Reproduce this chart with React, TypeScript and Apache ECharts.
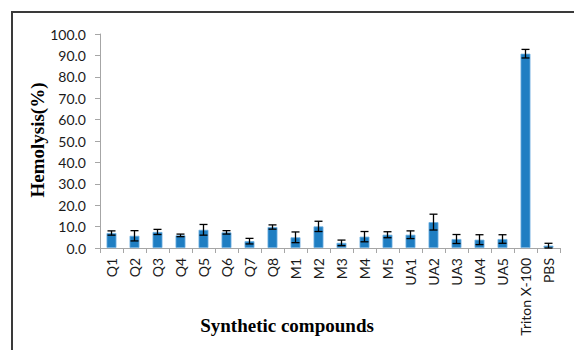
import React, { useEffect, useRef } from "react";
import * as echarts from "echarts";

const categories = ["Q1","Q2","Q3","Q4","Q5","Q6","Q7","Q8","M1","M2","M3","M4","M5","UA1","UA2","UA3","UA4","UA5","Triton X-100","PBS"];
const values = [7.0, 5.7, 7.5, 5.9, 8.5, 7.3, 3.2, 9.8, 5.0, 10.1, 2.4, 5.3, 6.2, 6.2, 12.1, 4.2, 3.9, 4.2, 90.8, 1.1];
const errors = [1.0, 2.4, 1.2, 0.6, 2.5, 0.8, 1.3, 1.0, 2.5, 2.4, 1.3, 2.4, 1.4, 1.8, 3.7, 2.1, 2.3, 2.0, 2.0, 1.1];
const yTicks = { min: 0, max: 100, interval: 10 };

export default function App() {
  const ref = useRef<HTMLDivElement>(null);
  useEffect(() => {
    if (!ref.current) return;
    const chart = echarts.init(ref.current, null, { renderer: "svg" });
    const errData = values.map((v, i) => [i, v - errors[i], v + errors[i]]);
    chart.setOption({
      animation: false,
      backgroundColor: "#ffffff",
      grid: { left: 100, right: 14, top: 34, bottom: 102 },
      xAxis: {
        type: "category",
        data: categories,
        axisLine: { lineStyle: { color: "#a6a6a6", width: 1 } },
        axisTick: { show: true, alignWithLabel: false, length: 5, lineStyle: { color: "#a6a6a6" } },
        axisLabel: { rotate: 90, interval: 0, margin: 10, fontFamily: "Lato", fontSize: 14, color: "#1a1a1a" },
      },
      yAxis: {
        type: "value",
        min: yTicks.min,
        max: yTicks.max,
        interval: yTicks.interval,
        splitLine: { show: false },
        axisLine: { show: true, lineStyle: { color: "#a6a6a6", width: 1 } },
        axisTick: { show: true, length: 5, lineStyle: { color: "#a6a6a6" } },
        axisLabel: { margin: 14, fontFamily: "Lato", fontSize: 14, color: "#1a1a1a", formatter: (v: number) => v.toFixed(1) },
      },
      graphic: [
        { type: "polyline", shape: { points: [[12, 352], [12, 12], [576, 12]] }, style: { stroke: "#3a3a3a", lineWidth: 2, fill: "none" } },
        { type: "text", x: 37, y: 140, rotation: Math.PI / 2, style: { text: "Hemolysis(%)", fontFamily: "Liberation Serif", fontWeight: "bold", fontSize: 19, fill: "#000", align: "center", verticalAlign: "middle" } },
        { type: "text", x: 287, y: 325, style: { text: "Synthetic compounds", fontFamily: "Liberation Serif", fontWeight: "bold", fontSize: 19, fill: "#000", align: "center", verticalAlign: "middle" } },
      ],
      series: [
        {
          type: "bar",
          data: values,
          barWidth: "43%",
          itemStyle: { color: "#1f7ec2", borderColor: "#6fb0e0", borderWidth: 0.8 },
        },
        {
          type: "custom",
          data: errData,
          z: 10,
          renderItem: (params: any, api: any) => {
            const x = api.value(0);
            const lo = api.coord([x, api.value(1)]);
            const hi = api.coord([x, api.value(2)]);
            const cx = lo[0];
            const hw = 4;
            const style = { stroke: "#000", lineWidth: 1.3 };
            return {
              type: "group",
              children: [
                { type: "line", shape: { x1: cx, y1: lo[1], x2: cx, y2: hi[1] }, style },
                { type: "line", shape: { x1: cx - hw, y1: lo[1], x2: cx + hw, y2: lo[1] }, style },
                { type: "line", shape: { x1: cx - hw, y1: hi[1], x2: cx + hw, y2: hi[1] }, style },
              ],
            };
          },
        },
      ],
    });
    return () => chart.dispose();
  }, []);
  return <div ref={ref} style={{ position: "fixed", left: 0, top: 0, width: 574, height: 350 }} />;
}
